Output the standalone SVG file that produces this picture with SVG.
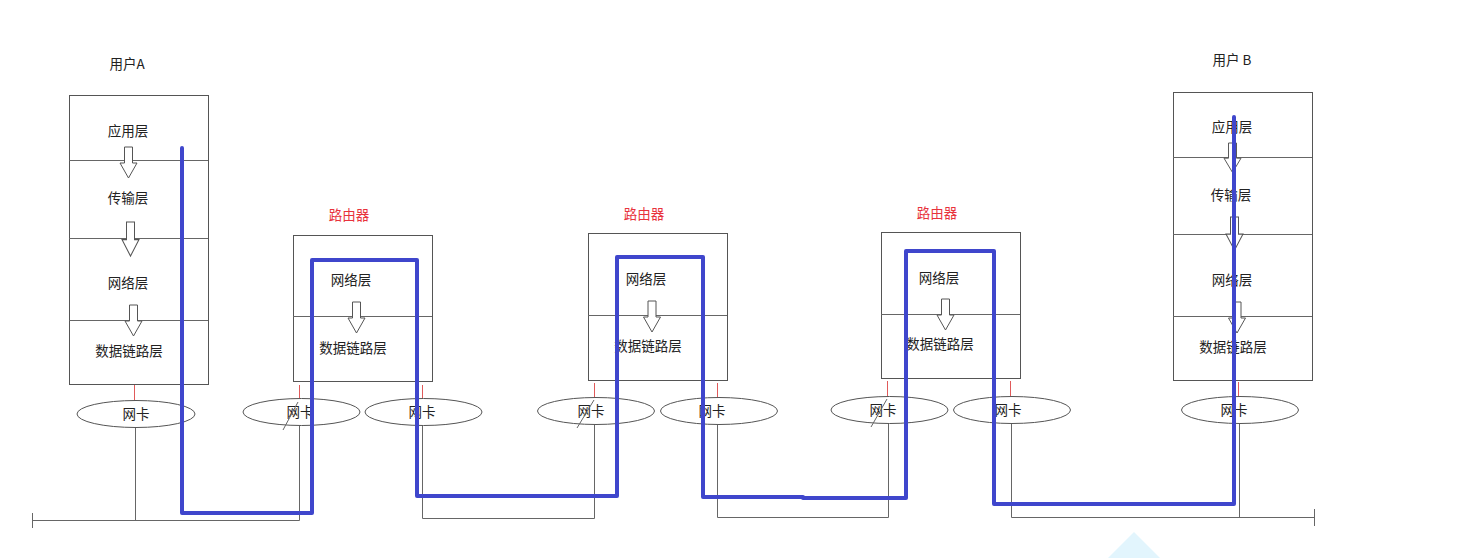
<svg xmlns="http://www.w3.org/2000/svg" width="1462" height="558" viewBox="0 0 1462 558">
<style>
.box{fill:none;stroke:#555;stroke-width:1}
.div{stroke:#666;stroke-width:1}
.t{font-family:"Noto Sans CJK SC","Microsoft YaHei",sans-serif;font-size:13.5px;fill:#222;text-anchor:middle;dominant-baseline:central}
.r{fill:#e8323c}
.arr{fill:#fff;stroke:#555;stroke-width:1}
.nic{fill:#fff;stroke:#555;stroke-width:1}
.red{stroke:#e05a5a;stroke-width:1}
.wire{stroke:#666;stroke-width:1;fill:none}
.path{fill:none;stroke:#3f46cc;stroke-width:4;stroke-linejoin:round;stroke-linecap:round}
</style>
<defs>
<path id="dn" d="M-4,0 H4 V16 H8.5 L0,31 L-8.5,16 H-4 Z"/>
</defs>
<rect width="1462" height="558" fill="#fff"/>
<polygon points="1108,558 1134,532 1160,558" fill="#e2f5fd"/>

<g id="userA">
<text class="t" x="127" y="63">用户A</text>
<rect class="box" x="69.5" y="95.5" width="139" height="289"/>
<line class="div" x1="69" y1="160.5" x2="208" y2="160.5"/>
<line class="div" x1="69" y1="238.5" x2="208" y2="238.5"/>
<line class="div" x1="69" y1="320.5" x2="208" y2="320.5"/>
<text class="t" x="128" y="130">应用层</text>
<text class="t" x="128" y="197">传输层</text>
<text class="t" x="128" y="282">网络层</text>
<text class="t" x="129" y="350">数据链路层</text>
<use href="#dn" class="arr" transform="translate(128.5,147)"/>
<use href="#dn" class="arr" transform="translate(130.5,222) scale(1,1.1)"/>
<use href="#dn" class="arr" transform="translate(133.5,305)"/>
<line class="red" x1="134.5" y1="385" x2="134.5" y2="401"/>
<ellipse class="nic" cx="136" cy="414" rx="59" ry="13.5"/>
<text class="t" x="136" y="413">网卡</text>
</g>

<g id="router1">
<text class="t r" x="349" y="214">路由器</text>
<rect class="box" x="293.5" y="235.5" width="139" height="146"/>
<line class="div" x1="293" y1="316.5" x2="432" y2="316.5"/>
<text class="t" x="351" y="279">网络层</text>
<text class="t" x="353" y="347">数据链路层</text>
<use href="#dn" class="arr" transform="translate(356.5,302)"/>
<line class="red" x1="299.5" y1="385" x2="299.5" y2="400"/>
<line class="red" x1="422.5" y1="385" x2="422.5" y2="400"/>
<ellipse class="nic" cx="301.5" cy="412" rx="58.5" ry="13.5"/>
<text class="t" x="300" y="411">网卡</text>
<ellipse class="nic" cx="423.5" cy="412" rx="58.5" ry="13.5"/>
<text class="t" x="422" y="411">网卡</text>
<line class="wire" x1="283" y1="430" x2="298" y2="402"/>
</g>

<g id="router2">
<text class="t r" x="644" y="213">路由器</text>
<rect class="box" x="588.5" y="233.5" width="139" height="147"/>
<line class="div" x1="588" y1="315.5" x2="727" y2="315.5"/>
<text class="t" x="646" y="278">网络层</text>
<text class="t" x="648" y="345">数据链路层</text>
<use href="#dn" class="arr" transform="translate(652,301)"/>
<line class="red" x1="594.5" y1="383" x2="594.5" y2="398"/>
<line class="red" x1="717.5" y1="383" x2="717.5" y2="398"/>
<ellipse class="nic" cx="596" cy="411" rx="58.5" ry="13.5"/>
<text class="t" x="591" y="410">网卡</text>
<ellipse class="nic" cx="719" cy="411" rx="58.5" ry="13.5"/>
<text class="t" x="712" y="410">网卡</text>
<line class="wire" x1="577" y1="428" x2="594" y2="400"/>
</g>

<g id="router3">
<text class="t r" x="937" y="212">路由器</text>
<rect class="box" x="881.5" y="232.5" width="139" height="146"/>
<line class="div" x1="881" y1="314.5" x2="1020" y2="314.5"/>
<text class="t" x="939" y="277">网络层</text>
<text class="t" x="940" y="343">数据链路层</text>
<use href="#dn" class="arr" transform="translate(945.5,299)"/>
<line class="red" x1="887.5" y1="381" x2="887.5" y2="397"/>
<line class="red" x1="1010.5" y1="381" x2="1010.5" y2="397"/>
<ellipse class="nic" cx="889.5" cy="410" rx="58.5" ry="13.5"/>
<text class="t" x="883" y="409">网卡</text>
<ellipse class="nic" cx="1012" cy="410" rx="58.5" ry="13.5"/>
<text class="t" x="1008" y="409">网卡</text>
<line class="wire" x1="871" y1="427" x2="887" y2="399"/>
</g>

<g id="userB">
<text class="t" x="1232" y="59">用户 B</text>
<rect class="box" x="1173.5" y="92.5" width="139" height="288"/>
<line class="div" x1="1173" y1="157.5" x2="1312" y2="157.5"/>
<line class="div" x1="1173" y1="234.5" x2="1312" y2="234.5"/>
<line class="div" x1="1173" y1="316.5" x2="1312" y2="316.5"/>
<text class="t" x="1232" y="126">应用层</text>
<text class="t" x="1231" y="194">传输层</text>
<text class="t" x="1232" y="279">网络层</text>
<text class="t" x="1233" y="346">数据链路层</text>
<use href="#dn" class="arr" transform="translate(1232.5,143) scale(1,0.95)"/>
<use href="#dn" class="arr" transform="translate(1234.5,217) scale(1,1.07)"/>
<use href="#dn" class="arr" transform="translate(1237,302)"/>
<line class="red" x1="1238.5" y1="382" x2="1238.5" y2="397"/>
<ellipse class="nic" cx="1240" cy="410" rx="58.5" ry="13.5"/>
<text class="t" x="1234" y="409">网卡</text>
</g>

<g id="connectors">
<path class="wire" d="M135.5,428 V520.5 M32.5,520.5 H299.5 M32.5,513 V528 M299.5,426 V520.5"/>
<path class="wire" d="M422.5,426 V518.5 H594.5 V425"/>
<path class="wire" d="M717.5,425 V517.5 H888.5 V424"/>
<path class="wire" d="M1011.5,424 V517.5 H1314 M1314.5,509 V526 M1239.5,424 V517.5"/>
<path class="path" d="M182,148 V513 H312 V260 H417 V496 H617 V257 H703 V497 H803 V498 H906 V251 H994 V504 H1234 V117"/>
</g>
</svg>
